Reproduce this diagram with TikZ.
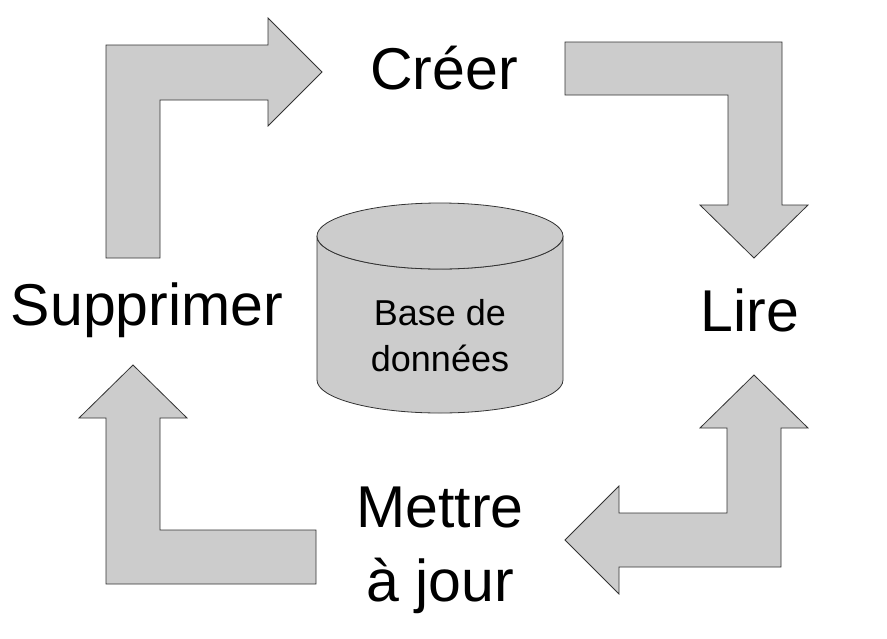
\documentclass[tikz,border=0pt]{standalone}
\usepackage{fontspec}
\setmainfont{Liberation Sans}
\begin{document}
\begin{tikzpicture}[x=1pt,y=-1pt,
 arr/.style={fill=gray!40,draw=black!80,line width=0.8pt},
 lab/.style={font=\fontsize{59}{64}\selectfont,align=center}]
\useasboundingbox (0,0) rectangle (887,638);
\fill[white] (0,0) rectangle (887,638);
\draw[arr] (106,258)--(106,45)--(268,45)--(268,18)--(322,72)--(268,126)--(268,100)--(160,100)--(160,258)--cycle;
\draw[arr] (565,42)--(782,42)--(782,205)--(808,205)--(754,258)--(700,205)--(728,205)--(728,95)--(565,95)--cycle;
\draw[arr] (781,567)--(781,428)--(808,428)--(754,375)--(700,428)--(727,428)--(727,513)--(619,513)--(619,486)--(565,540)--(619,594)--(619,567)--cycle;
\draw[arr] (106,584)--(106,418)--(79,418)--(133,365)--(187,418)--(160,418)--(160,530)--(316,530)--(316,584)--cycle;
\draw[arr] (317,236)--(317,380) arc[start angle=180,end angle=0,x radius=123,y radius=33]--(563,236) arc[start angle=0,end angle=180,x radius=123,y radius=33];
\draw[arr] (440,236) ellipse[x radius=123,y radius=33];
\node[font=\fontsize{36}{46}\selectfont,align=center] (db) at (440,336) {Base de\\données};
\node[lab] (c) at (444,68) {Créer};
\node[lab] (l) at (750,310) {Lire};
\node[lab] (s) at (147,310) {Supprimer};
\node[lab,font=\fontsize{59}{74}\selectfont] (m) at (440,550) {Mettre\\à jour};
\end{tikzpicture}
\end{document}
